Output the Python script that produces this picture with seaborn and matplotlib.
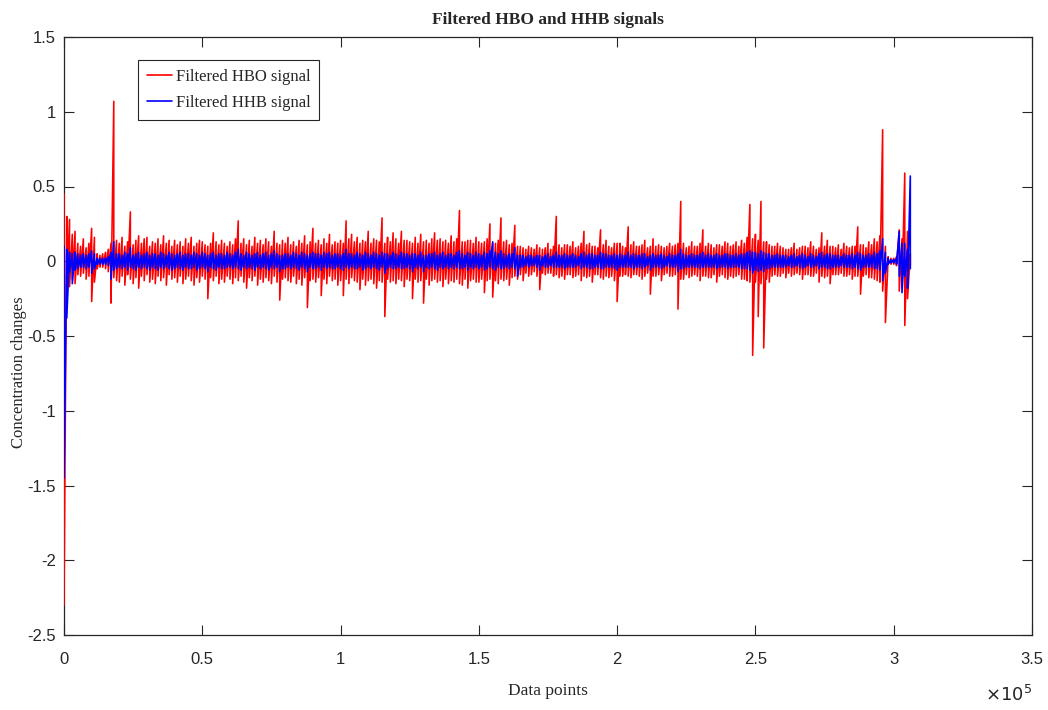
import numpy as np
import pandas as pd
import seaborn as sns
import matplotlib
matplotlib.use("Agg")
import matplotlib.pyplot as plt
from matplotlib.ticker import FuncFormatter, FixedLocator
from matplotlib import font_manager

# Each trace is stored as the upper and lower extreme of every block of 1000 data points
step = 1000

# Filtered oxy-haemoglobin (HBO): block maxima / minima
hbo_hi = [
    .45, .30, .28, .18, .20, .12, .10, .15, .09, .12, .22, .16, .05, .04, .05, .06, .08, .12, 1.07, .14,
    .12, .16, .10, .13, .33, .11, .14, .17, .12, .15, .16, .10, .13, .12, .15, .11, .17, .12, .14, .10,
    .14, .11, .13, .10, .15, .12, .16, .10, .12, .14, .13, .11, .10, .12, .19, .13, .11, .14, .12, .10,
    .13, .11, .15, .27, .12, .15, .11, .14, .10, .16, .12, .14, .11, .15, .13, .10, .20, .12, .11, .14,
    .12, .16, .11, .13, .10, .14, .12, .17, .11, .13, .22, .12, .14, .11, .15, .12, .18, .11, .13, .12,
    .14, .12, .27, .15, .18, .13, .16, .12, .14, .13, .20, .12, .15, .14, .13, .29, .12, .16, .13, .19,
    .15, .12, .20, .14, .14, .13, .12, .16, .12, .18, .13, .14, .12, .15, .19, .14, .15, .13, .14, .12,
    .17, .13, .15, .34, .13, .13, .14, .14, .12, .16, .13, .12, .13, .15, .25, .12, .12, .14, .29, .13,
    .14, .11, .12, .24, .10, .10, .09, .08, .10, .09, .08, .11, .09, .08, .09, .12, .08, .10, .30, .11,
    .09, .11, .11, .10, .13, .09, .10, .12, .20, .11, .12, .10, .10, .09, .21, .11, .14, .10, .09, .12,
    .12, .12, .10, .09, .23, .11, .13, .10, .10, .11, .14, .09, .10, .15, .10, .11, .10, .09, .10, .12,
    .10, .11, .12, .40, .12, .09, .10, .13, .10, .10, .12, .21, .10, .12, .11, .09, .11, .11, .10, .13,
    .12, .10, .11, .13, .10, .14, .12, .16, .38, .15, .18, .14, .40, .13, .13, .11, .10, .10, .12, .10,
    .09, .08, .08, .09, .12, .08, .09, .10, .10, .09, .13, .10, .08, .09, .19, .10, .14, .10, .10, .09,
    .11, .08, .12, .10, .09, .10, .10, .23, .11, .11, .09, .13, .11, .15, .13, .17, .88, .10, .03, .02,
    .02, .03, .21, .15, .59, .20, .05,
]
hbo_lo = [
    -2.30, -.20, -.17, -.12, -.15, -.09, -.10, -.08, -.12, -.10, -.27, -.14, -.05, -.04, -.04, -.05, -.07, -.28, -.11, -.13,
    -.14, -.10, -.16, -.09, -.12, -.15, -.11, -.18, -.10, -.13, -.09, -.14, -.12, -.15, -.10, -.13, -.11, -.16, -.09, -.12,
    -.11, -.14, -.10, -.15, -.12, -.10, -.13, -.16, -.11, -.14, -.10, -.12, -.25, -.11, -.13, -.10, -.15, -.12, -.14, -.10,
    -.12, -.15, -.11, -.13, -.10, -.14, -.18, -.11, -.13, -.10, -.16, -.12, -.14, -.11, -.13, -.15, -.10, -.14, -.26, -.12,
    -.11, -.13, -.14, -.10, -.15, -.12, -.16, -.11, -.31, -.13, -.12, -.14, -.11, -.23, -.12, -.15, -.10, -.13, -.12, -.16,
    -.13, -.23, -.12, -.15, -.11, -.13, -.14, -.19, -.12, -.16, -.13, -.12, -.15, -.18, -.13, -.14, -.37, -.12, -.14, -.13,
    -.15, -.12, -.13, -.17, -.12, -.13, -.25, -.12, -.14, -.13, -.28, -.12, -.16, -.13, -.12, -.14, -.13, -.17, -.12, -.15,
    -.13, -.14, -.12, -.15, -.16, -.12, -.18, -.13, -.12, -.14, -.14, -.12, -.21, -.13, -.12, -.24, -.13, -.15, -.12, -.13,
    -.12, -.16, -.11, -.10, -.12, -.09, -.13, -.08, -.10, -.09, -.07, -.10, -.19, -.08, -.09, -.08, -.08, -.10, -.09, -.11,
    -.10, -.12, -.09, -.09, -.11, -.10, -.09, -.13, -.10, -.11, -.10, -.14, -.09, -.09, -.11, -.12, -.10, -.11, -.10, -.13,
    -.27, -.10, -.10, -.09, -.10, -.11, -.09, -.09, -.10, -.12, -.10, -.08, -.22, -.10, -.10, -.09, -.13, -.09, -.08, -.10,
    -.10, -.09, -.32, -.12, -.12, -.09, -.11, -.10, -.09, -.10, -.13, -.10, -.10, -.11, -.11, -.09, -.14, -.10, -.09, -.11,
    -.12, -.10, -.11, -.10, -.09, -.12, -.12, -.13, -.14, -.63, -.14, -.37, -.15, -.58, -.12, -.14, -.10, -.09, -.10, -.10,
    -.08, -.11, -.08, -.10, -.09, -.08, -.09, -.12, -.09, -.09, -.10, -.10, -.08, -.14, -.10, -.11, -.10, -.15, -.09, -.09,
    -.09, -.08, -.10, -.10, -.09, -.12, -.10, -.10, -.22, -.10, -.09, -.11, -.11, -.12, -.13, -.14, -.20, -.41, -.02, -.02,
    -.02, -.03, -.20, -.18, -.43, -.25, -.03,
]

# Filtered deoxy-haemoglobin (HHB): block maxima / minima
hhb_hi = [
    .10, .08, .06, .05, .06, .05, .04, .05, .04, .05, .07, .05, .02, .02, .02, .02, .03, .06, .13, .05,
    .05, .04, .06, .05, .09, .04, .05, .06, .04, .05, .06, .04, .05, .05, .04, .06, .05, .04, .06, .05,
    .04, .05, .06, .04, .05, .05, .04, .06, .05, .04, .06, .05, .04, .05, .06, .04, .05, .05, .04, .06,
    .05, .04, .06, .08, .05, .04, .06, .05, .04, .05, .06, .04, .05, .06, .04, .05, .07, .05, .04, .04,
    .05, .05, .04, .06, .05, .04, .06, .05, .04, .05, .06, .05, .05, .04, .06, .05, .06, .04, .05, .05,
    .04, .05, .08, .05, .05, .04, .06, .05, .04, .06, .05, .04, .06, .05, .04, .06, .05, .05, .04, .06,
    .05, .04, .06, .05, .05, .04, .05, .05, .04, .06, .04, .04, .05, .05, .06, .04, .05, .06, .04, .05,
    .05, .04, .06, .07, .05, .04, .06, .05, .04, .06, .05, .04, .06, .05, .07, .13, .06, .05, .07, .05,
    .04, .05, .05, .09, .04, .04, .04, .03, .04, .04, .03, .04, .04, .03, .04, .05, .03, .04, .06, .04,
    .04, .05, .04, .04, .05, .04, .03, .05, .06, .04, .05, .05, .04, .04, .06, .05, .05, .04, .04, .05,
    .04, .05, .04, .04, .06, .04, .05, .04, .04, .05, .05, .03, .04, .05, .04, .04, .05, .04, .03, .05,
    .04, .04, .05, .08, .05, .04, .04, .05, .04, .04, .05, .06, .04, .05, .04, .04, .05, .04, .04, .05,
    .05, .04, .04, .05, .04, .05, .05, .06, .07, .06, .06, .05, .07, .06, .05, .05, .04, .04, .05, .04,
    .04, .04, .03, .04, .05, .03, .04, .05, .04, .03, .05, .04, .03, .05, .06, .04, .05, .05, .04, .04,
    .04, .03, .05, .04, .04, .05, .04, .06, .05, .04, .04, .05, .04, .06, .05, .07, .15, .06, .02, .01,
    .01, .02, .20, .12, .12, .08, .57,
]
hhb_lo = [
    -1.45, -.38, -.07, -.15, -.06, -.05, -.04, -.04, -.05, -.04, -.08, -.05, -.02, -.02, -.02, -.02, -.03, -.12, -.06, -.05,
    -.04, -.05, -.04, -.06, -.04, -.05, -.06, -.04, -.05, -.04, -.05, -.06, -.04, -.05, -.06, -.04, -.05, -.04, -.05, -.06,
    -.05, -.04, -.05, -.06, -.04, -.05, -.05, -.04, -.06, -.05, -.04, -.05, -.07, -.04, -.05, -.06, -.04, -.05, -.05, -.04,
    -.04, -.05, -.04, -.05, -.06, -.04, -.05, -.04, -.05, -.06, -.04, -.05, -.04, -.05, -.06, -.04, -.05, -.04, -.07, -.05,
    -.05, -.04, -.05, -.04, -.05, -.06, -.04, -.05, -.07, -.04, -.05, -.05, -.04, -.06, -.04, -.05, -.04, -.05, -.05, -.04,
    -.05, -.06, -.04, -.05, -.04, -.05, -.05, -.04, -.06, -.05, -.04, -.05, -.04, -.05, -.06, -.04, -.08, -.05, -.04, -.05,
    -.05, -.04, -.05, -.05, -.04, -.05, -.07, -.04, -.05, -.04, -.07, -.04, -.05, -.04, -.05, -.06, -.04, -.05, -.04, -.05,
    -.04, -.05, -.04, -.05, -.05, -.04, -.06, -.04, -.05, -.04, -.05, -.04, -.06, -.05, -.04, -.05, -.06, -.04, -.05, -.05,
    -.04, -.05, -.04, -.05, -.10, -.04, -.04, -.03, -.04, -.03, -.03, -.04, -.06, -.03, -.04, -.04, -.03, -.04, -.04, -.04,
    -.04, -.05, -.04, -.04, -.04, -.04, -.03, -.05, -.04, -.04, -.05, -.05, -.04, -.04, -.05, -.05, -.04, -.04, -.04, -.05,
    -.06, -.04, -.04, -.04, -.04, -.04, -.05, -.04, -.04, -.05, -.04, -.03, -.06, -.04, -.04, -.04, -.05, -.04, -.03, -.04,
    -.04, -.04, -.07, -.05, -.05, -.04, -.04, -.04, -.04, -.04, -.05, -.04, -.04, -.04, -.04, -.04, -.05, -.04, -.04, -.04,
    -.05, -.04, -.04, -.04, -.04, -.05, -.05, -.05, -.06, -.08, -.06, -.07, -.06, -.07, -.05, -.05, -.04, -.04, -.04, -.04,
    -.04, -.04, -.03, -.04, -.04, -.03, -.04, -.05, -.04, -.03, -.04, -.04, -.03, -.05, -.04, -.04, -.05, -.05, -.04, -.04,
    -.04, -.03, -.04, -.04, -.04, -.05, -.04, -.05, -.06, -.04, -.04, -.04, -.04, -.05, -.05, -.06, -.13, -.08, -.02, -.01,
    -.01, -.02, -.10, -.21, -.10, -.18, -.05,
]

series_names = ["Filtered HBO signal", "Filtered HHB signal"]
series_colors = ["#ff0000", "#0000ff"]
series_widths = [1.15, 1.2]

x_ticks = [0, 50000, 100000, 150000, 200000, 250000, 300000, 350000]
y_ticks = [-2.5, -2.0, -1.5, -1.0, -0.5, 0.0, 0.5, 1.0, 1.5]


def trace_frame(hi, lo, name):
    """Walk each block from its maximum to its minimum, block after block."""
    xs, ys = [], []
    for i, (a, b) in enumerate(zip(hi, lo)):
        xs += [i * step, i * step]
        ys += [a, b]
    return pd.DataFrame({"Data points": xs, "value": ys, "signal": name})


sns.set_theme(style="white")

installed = {f.name for f in font_manager.fontManager.ttflist}
narrow = "Liberation Sans Narrow" in installed
tick_family = ["Liberation Sans Narrow", "DejaVu Sans"] if narrow else ["Liberation Sans", "DejaVu Sans"]
tick_size = 14 if narrow else 12
serif_family = ["Liberation Serif", "DejaVu Serif"]
plt.rcParams["font.family"] = tick_family

df = pd.concat([
    trace_frame(hbo_hi, hbo_lo, series_names[0]),
    trace_frame(hhb_hi, hhb_lo, series_names[1]),
], ignore_index=True)

fig = plt.figure(figsize=(10.48, 7.10), dpi=100)
ax = fig.add_axes([64 / 1048, 1 - 635 / 710, 968 / 1048, 598 / 710])

# Traces sit above the frame so the first sample on the left edge stays visible
sns.lineplot(data=df, x="Data points", y="value", hue="signal", hue_order=series_names,
             palette=dict(zip(series_names, series_colors)), estimator=None, sort=False,
             size="signal", sizes=dict(zip(series_names, series_widths)),
             ax=ax, legend=False, zorder=3)

ax.set_xlim(0, 350000)
ax.set_ylim(-2.5, 1.5)
ax.xaxis.set_major_locator(FixedLocator(x_ticks))
ax.yaxis.set_major_locator(FixedLocator(y_ticks))
ax.xaxis.set_major_formatter(FuncFormatter(lambda v, p: f"{v / 1e5:g}"))
ax.yaxis.set_major_formatter(FuncFormatter(lambda v, p: f"{v:g}"))

for side in ["top", "right", "bottom", "left"]:
    ax.spines[side].set_visible(True)
    ax.spines[side].set_color("#262626")
    ax.spines[side].set_linewidth(0.9)
ax.tick_params(axis="both", which="major", direction="in", length=7, width=0.8, color="#262626",
               top=True, right=True, bottom=True, left=True, labelsize=tick_size, labelcolor="#262626")
ax.tick_params(axis="x", pad=12)
ax.tick_params(axis="y", pad=6)
for lab in ax.get_xticklabels() + ax.get_yticklabels():
    lab.set_family(tick_family)

ax.set_title("Filtered HBO and HHB signals", family=serif_family, fontsize=12.5, fontweight="bold", pad=9)
ax.set_xlabel("Data points", family=serif_family, fontsize=12.5, color="#262626")
ax.set_ylabel("Concentration changes", family=serif_family, fontsize=12, color="#262626")
ax.xaxis.set_label_coords(0.5, -0.08)
ax.yaxis.set_label_coords(-0.038, 0.44)

fig.text(1032 / 1048, 1 - 695 / 710, r"$\times10^{5}$", ha="right", va="center", fontsize=13,
         color="#262626", family=tick_family)

handles = [plt.Line2D([], [], color=c, lw=1.2) for c in series_colors]
leg = ax.legend(handles, series_names, loc="upper left", bbox_to_anchor=(74 / 968, 1 - 23 / 598),
                frameon=True, fancybox=False, framealpha=1, edgecolor="#262626",
                prop={"family": serif_family, "size": 12}, handlelength=1.5, handletextpad=0.2,
                borderpad=0.55, labelspacing=0.6, borderaxespad=0)
leg.get_frame().set_linewidth(0.8)
leg.set_zorder(5)

fig.savefig("out.png", dpi=100, facecolor="white")
